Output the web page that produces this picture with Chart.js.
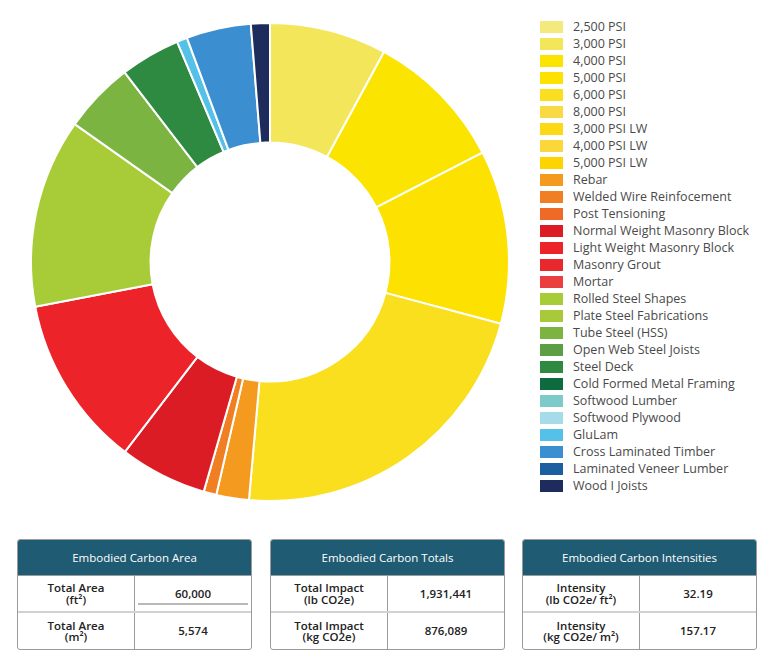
<!DOCTYPE html>
<html>
<head>
<meta charset="utf-8">
<script src="https://cdn.jsdelivr.net/npm/chart.js@4.4.1/dist/chart.umd.min.js"></script>
<style>
  body { margin: 0; background: #fff; font-family: "Open Sans", sans-serif; }
  #wrap { position: relative; width: 775px; height: 665px; }
  #myChart { position: absolute; left: 0; top: 0; }
  #legend { position: absolute; left: 540px; top: 18px; }
  .lg-row { height: 17px; display: flex; align-items: center; font-size: 12.5px; color: #4a4a4a; white-space: nowrap; }
  .lg-box { width: 23px; height: 12px; margin-right: 10px; }
  .card { position: absolute; top: 539px; width: 233px; border: 1px solid #9a9a9a; border-radius: 3px; overflow: hidden; }
  .card .hd { height: 35px; background: #1f5b73; color: #fff; font-size: 11.5px; font-weight: 500;
              display: flex; align-items: center; justify-content: center; }
  .card .row { display: flex; height: 35px; border-top: 1px solid #9a9a9a; }
  .card .row + .row { height: 36px; border-top: 2px solid #d2d2d2; }
  .card .cell { flex: 1; display: flex; align-items: center; justify-content: center; text-align: center;
                font-size: 11.5px; color: #222; font-weight: 600; line-height: 11.5px; }
  .card .cell:first-child { border-right: 1px solid #9a9a9a; }
  .card .cell .ul { display: block; width: 110px; padding-bottom: 4px; border-bottom: 2px solid #b8b8b8; margin-top: 6px; }
</style>
</head>
<body>
<div id="wrap">
  <canvas id="myChart" width="540" height="524"></canvas>
  <div id="legend"></div>
  <div id="cards"></div>
</div>
<script>
// embodied carbon by material (lb CO2e)
const materials = [
  '2,500 PSI', '3,000 PSI', '4,000 PSI', '5,000 PSI', '6,000 PSI', '8,000 PSI',
  '3,000 PSI LW', '4,000 PSI LW', '5,000 PSI LW', 'Rebar', 'Welded Wire Reinfocement',
  'Post Tensioning', 'Normal Weight Masonry Block', 'Light Weight Masonry Block',
  'Masonry Grout', 'Mortar', 'Rolled Steel Shapes', 'Plate Steel Fabrications',
  'Tube Steel (HSS)', 'Open Web Steel Joists', 'Steel Deck', 'Cold Formed Metal Framing',
  'Softwood Lumber', 'Softwood Plywood', 'GluLam', 'Cross Laminated Timber',
  'Laminated Veneer Lumber', 'Wood I Joists'
];
const impact = [
  0, 152600, 183500, 226000, 428800, 0,
  0, 0, 0, 42500, 16600,
  0, 114000, 224000,
  0, 0, 246300, 0,
  92700, 0, 78200, 0,
  0, 0, 13500, 84200,
  0, 24700
];
const materialColors = [
  '#f3e97c', '#f4e65a', '#fbe400', '#fde100', '#fadf1e', '#f9da45',
  '#fdd915', '#fbd73c', '#fdd400', '#f49b1f', '#f07e22',
  '#ef6a26', '#dc1c25', '#ec2329',
  '#e7282c', '#eb3e3f', '#a8cc37', '#a7c93a',
  '#7cb442', '#5c9e43', '#2f8a41', '#0e6a3f',
  '#7ccac9', '#a6dcea', '#55c1e8', '#3b8fd1',
  '#1b5fa1', '#1d2c5c'
];

// summary tables
const cardTitles = ['Embodied Carbon Area', 'Embodied Carbon Totals', 'Embodied Carbon Intensities'];
const cardLabels = [
  [['Total Area', '(ft²)'], ['Total Area', '(m²)']],
  [['Total Impact', '(lb CO2e)'], ['Total Impact', '(kg CO2e)']],
  [['Intensity', '(lb CO2e/ ft²)'], ['Intensity', '(kg CO2e/ m²)']]
];
const cardValues = [['60,000', '5,574'], ['1,931,441', '876,089'], ['32.19', '157.17']];
const cardLeft = [17, 270, 522];

const myChart = new Chart(document.getElementById('myChart'), {
  type: 'doughnut',
  data: {
    labels: materials,
    datasets: [{
      data: impact,
      backgroundColor: materialColors,
      borderColor: '#ffffff',
      borderWidth: 2,
      hoverOffset: 0
    }]
  },
  options: {
    responsive: false,
    animation: false,
    cutout: '50%',
    layout: { padding: { top: 22, bottom: 22, left: 0, right: 0 } },
    plugins: { legend: { display: false } }
  }
});

// html legend from the chart's own legend items
var items = Chart.overrides.doughnut.plugins.legend.labels.generateLabels(myChart);
var lg = document.getElementById('legend');
items.forEach(function (it) {
  var row = document.createElement('div');
  row.className = 'lg-row';
  row.innerHTML = '<span class="lg-box" style="background:' + it.fillStyle + '"></span>' + it.text;
  lg.appendChild(row);
});

var cards = document.getElementById('cards');
cardTitles.forEach(function (t, i) {
  var html = '<div class="card" style="left:' + cardLeft[i] + 'px"><div class="hd">' + t + '</div>';
  for (var r = 0; r < 2; r++) {
    var val = cardValues[i][r];
    if (i === 0 && r === 0) val = '<span class="ul">' + val + '</span>';
    html += '<div class="row"><div class="cell">' + cardLabels[i][r][0] + '<br>' + cardLabels[i][r][1] +
            '</div><div class="cell">' + val + '</div></div>';
  }
  html += '</div>';
  cards.innerHTML += html;
});
</script>
</body>
</html>
